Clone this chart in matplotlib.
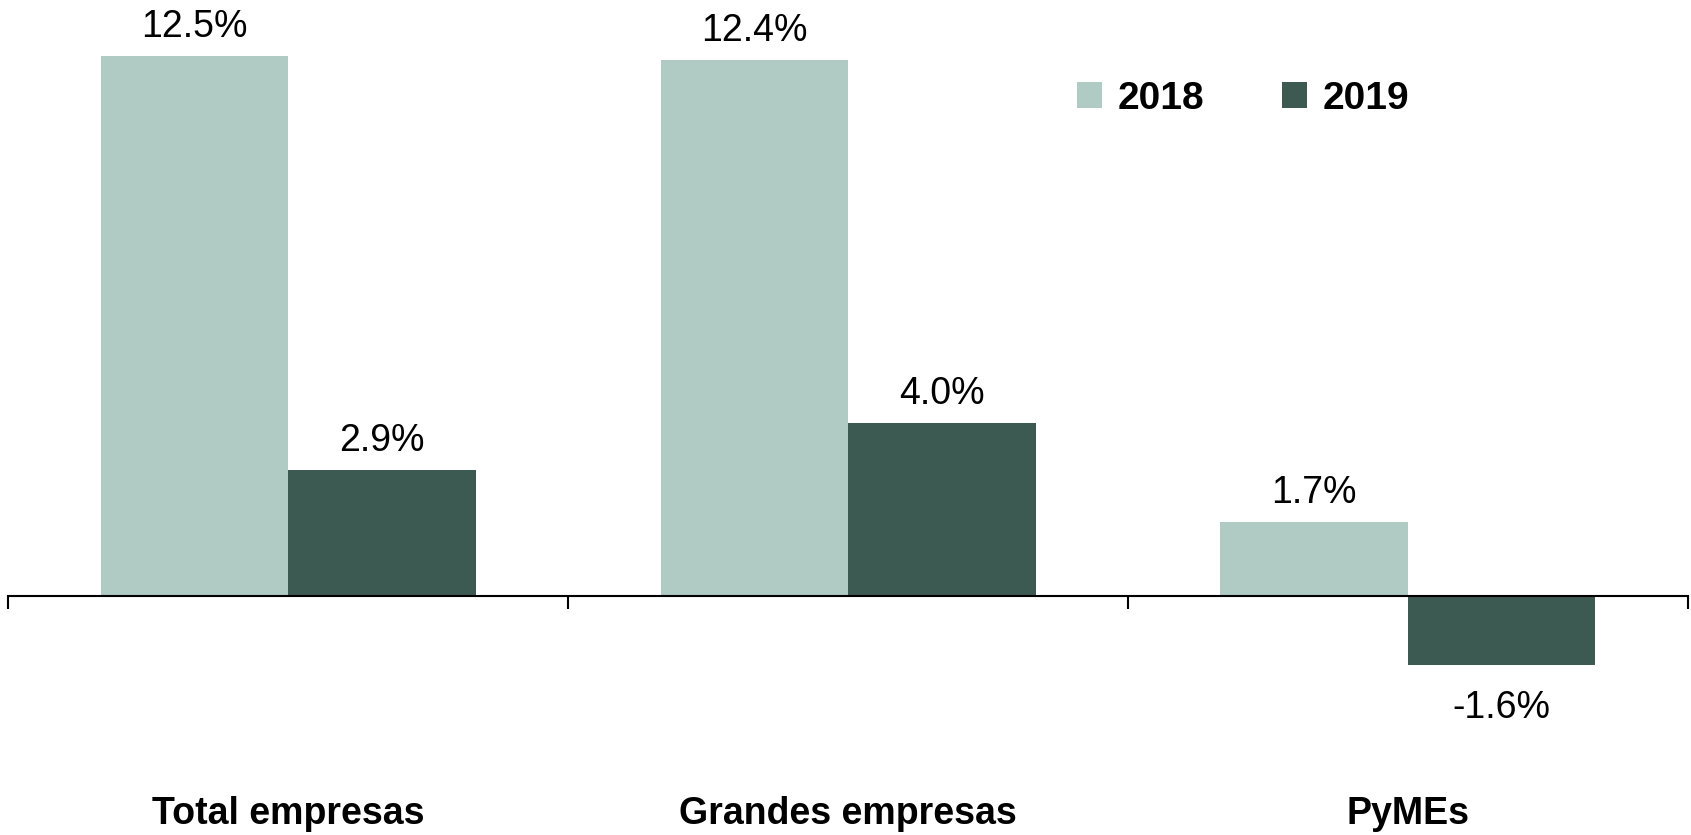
import numpy as np
import matplotlib.pyplot as plt

plt.rcParams['font.family'] = ['Liberation Sans', 'DejaVu Sans']

categories = ['Total empresas', 'Grandes empresas', 'PyMEs']
years = ['2018', '2019']
v2018 = [12.5, 12.4, 1.7]
v2019 = [2.9, 4.0, -1.6]
colors = ['#b0cbc4', '#3d5a52']

fig = plt.figure(figsize=(16.91, 8.35), dpi=100)
ax = fig.add_axes([0.005, 0.028, 0.993, 0.931])

x = np.arange(len(categories))
w = 0.335
b1 = ax.bar(x - w/2, v2018, w, color=colors[0], label=years[0])
b2 = ax.bar(x + w/2, v2019, w, color=colors[1], label=years[1])

for bars in (b1, b2):
    for b in bars:
        h = b.get_height()
        if h >= 0:
            ax.annotate(f'{h:.1f}%', (b.get_x() + b.get_width()/2, h), xytext=(0, 8),
                        textcoords='offset points', ha='center', va='bottom', fontsize=27)
        else:
            ax.annotate(f'{h:.1f}%', (b.get_x() + b.get_width()/2, h), xytext=(0, -18),
                        textcoords='offset points', ha='center', va='top', fontsize=27)

ax.set_xlim(-0.5, 2.5)
ax.set_ylim(-5, 13)
for s in ['top', 'right', 'left']:
    ax.spines[s].set_visible(False)
ax.spines['bottom'].set_position(('data', 0))
ax.spines['bottom'].set_linewidth(1.5)
ax.set_yticks([])
ax.set_xticks([-0.5, 0.5, 1.5, 2.5])
ax.set_xticklabels([])
ax.tick_params(axis='x', which='major', direction='out', length=9, width=1.5)
ax.set_xticks(x, minor=True)
ax.set_xticklabels(categories, minor=True, fontsize=27, fontweight='bold')
ax.tick_params(axis='x', which='minor', length=0, pad=144)

fig.legend(loc='center', bbox_to_anchor=(0.735, 0.882), ncol=2, frameon=False,
           prop={'size': 28, 'weight': 'bold'}, handlelength=0.65, handleheight=0.65,
           columnspacing=2.0, handletextpad=0.4)

fig.savefig('out.png', dpi=100)
